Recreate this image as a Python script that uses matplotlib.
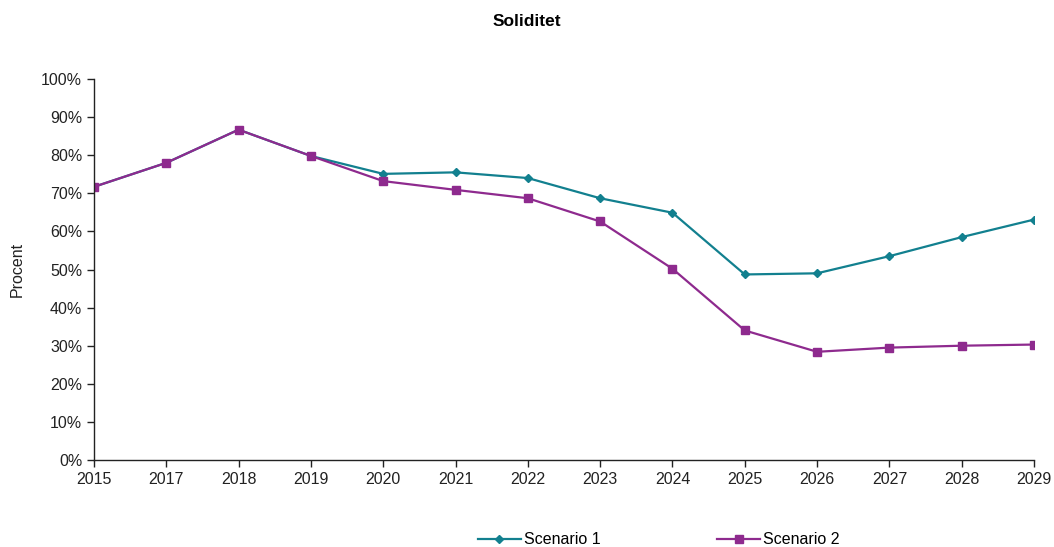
import matplotlib
matplotlib.use("Agg")
import matplotlib.pyplot as plt
from matplotlib.ticker import FuncFormatter, MultipleLocator

plt.rcParams['font.family'] = ['Liberation Sans', 'DejaVu Sans']

years = ["2015", "2017", "2018", "2019", "2020", "2021", "2022", "2023",
         "2024", "2025", "2026", "2027", "2028", "2029"]
scenario1 = [71.7, 78.0, 86.7, 79.8, 75.1, 75.5, 74.0, 68.7, 64.9, 48.7, 49.0, 53.5, 58.5, 63.1]
scenario2 = [71.7, 78.0, 86.7, 79.8, 73.2, 70.9, 68.7, 62.6, 50.2, 34.0, 28.4, 29.5, 30.0, 30.3]

teal = '#12808F'
purple = '#8E2A8E'

fig = plt.figure(figsize=(10.54, 5.47), dpi=100)
ax = fig.add_axes([94/1054, 1 - 460/547, (1034-94)/1054, (460-79)/547])

x = list(range(len(years)))
ax.plot(x, scenario1, color=teal, lw=1.6, marker='D', markersize=4.5, label='Scenario 1')
ax.plot(x, scenario2, color=purple, lw=1.6, marker='s', markersize=6, label='Scenario 2')

ax.set_xlim(0, len(years) - 1)
ax.set_ylim(0, 100)
ax.set_xticks(x)
ax.set_xticklabels(years)
ax.yaxis.set_major_locator(MultipleLocator(10))
ax.yaxis.set_major_formatter(FuncFormatter(lambda v, p: f"{v:.0f}%"))
ax.tick_params(axis='both', labelsize=11.5, direction='out', length=5, width=1, colors='#222222', labelcolor='#222222')
ax.tick_params(axis='x', pad=4)
for s in ['top', 'right']:
    ax.spines[s].set_visible(False)
for s in ['left', 'bottom']:
    ax.spines[s].set_color('#222222')
    ax.spines[s].set_linewidth(1)

ax.set_ylabel('Procent', fontsize=11.5, color='#222222', labelpad=12)
fig.text(0.5, 1 - 22/547, 'Soliditet', ha='center', va='center', fontsize=12.5, fontweight='bold')

fig.legend(loc='center', bbox_to_anchor=(0.625, 1 - 540/547), ncol=2, frameon=False,
           fontsize=11.5, columnspacing=7.3, handlelength=2.7, handletextpad=0.2)

fig.savefig('out.png', dpi=100)
